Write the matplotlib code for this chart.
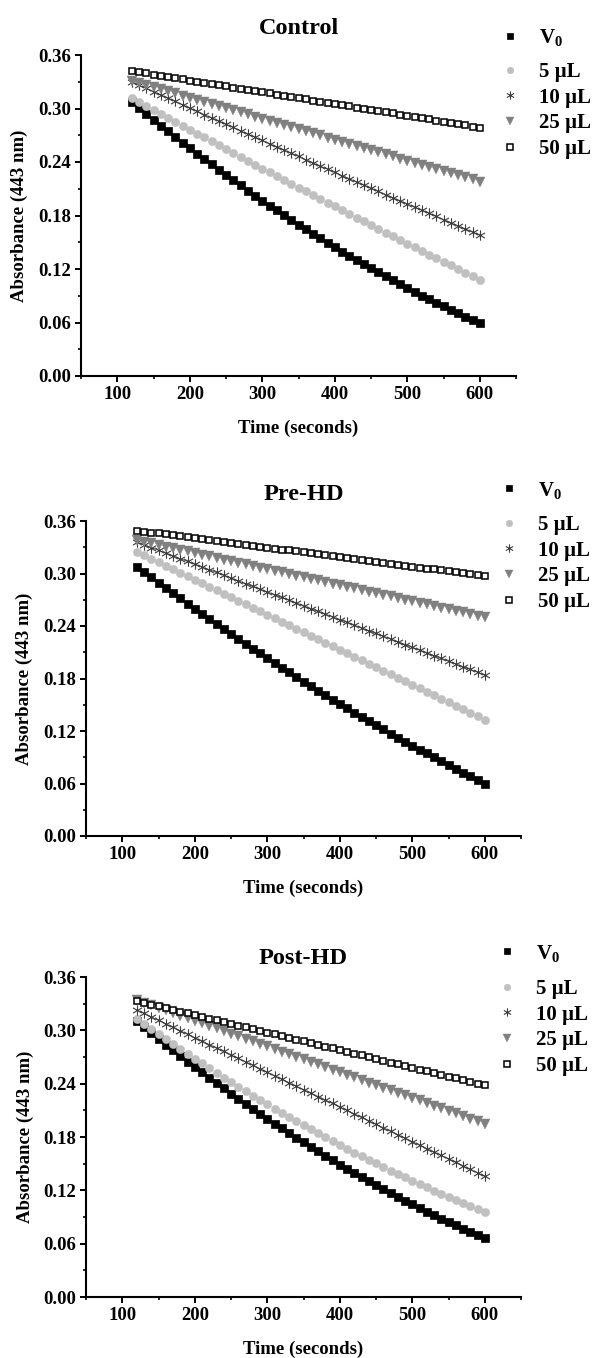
import matplotlib
matplotlib.use("Agg")
import matplotlib.pyplot as plt
from matplotlib.path import Path
from matplotlib.ticker import MultipleLocator, FormatStrFormatter

plt.rcParams['font.family'] = ['Liberation Serif', 'DejaVu Serif']
plt.rcParams['font.weight'] = 'bold'
plt.rcParams['mathtext.fontset'] = 'custom'
plt.rcParams['mathtext.rm'] = 'Liberation Serif:bold'
plt.rcParams['mathtext.bf'] = 'Liberation Serif:bold'
plt.rcParams['mathtext.it'] = 'Liberation Serif:bold'

# ---------------- data ----------------
time_s = list(range(120, 601, 10))

series_labels = ['V$_0$', '5 µL', '10 µL', '25 µL', '50 µL']
panel_titles = ['Control', 'Pre-HD', 'Post-HD']

control_v0 = [0.307, 0.3003, 0.2937, 0.2872, 0.2807, 0.2743, 0.2680, 0.2617, 0.2554, 0.2493,
              0.2432, 0.2372, 0.2312, 0.2253, 0.2195, 0.2137, 0.2080, 0.2023, 0.1967, 0.1912,
              0.1858, 0.1804, 0.1751, 0.1698, 0.1646, 0.1595, 0.1544, 0.1494, 0.1444, 0.1396,
              0.1348, 0.1300, 0.1253, 0.1207, 0.1161, 0.1116, 0.1072, 0.1028, 0.0985, 0.0943,
              0.0901, 0.0860, 0.0819, 0.0780, 0.0740, 0.0702, 0.0664, 0.0627, 0.0590]
control_5 = [0.312, 0.3075, 0.3030, 0.2986, 0.2941, 0.2896, 0.2852, 0.2808, 0.2763, 0.2719,
             0.2675, 0.2631, 0.2588, 0.2544, 0.2500, 0.2457, 0.2413, 0.2370, 0.2327, 0.2284,
             0.2241, 0.2198, 0.2155, 0.2113, 0.2070, 0.2028, 0.1985, 0.1943, 0.1901, 0.1859,
             0.1817, 0.1775, 0.1733, 0.1692, 0.1650, 0.1609, 0.1567, 0.1526, 0.1485, 0.1444,
             0.1403, 0.1362, 0.1322, 0.1281, 0.1241, 0.1200, 0.1160, 0.1120, 0.1080]
control_10 = [0.330, 0.3263, 0.3226, 0.3189, 0.3152, 0.3116, 0.3079, 0.3042, 0.3006, 0.2969,
              0.2932, 0.2896, 0.2860, 0.2823, 0.2787, 0.2751, 0.2714, 0.2678, 0.2642, 0.2606,
              0.2570, 0.2534, 0.2498, 0.2462, 0.2426, 0.2390, 0.2354, 0.2319, 0.2283, 0.2247,
              0.2212, 0.2176, 0.2141, 0.2106, 0.2070, 0.2035, 0.2000, 0.1964, 0.1929, 0.1894,
              0.1859, 0.1824, 0.1789, 0.1754, 0.1719, 0.1684, 0.1649, 0.1615, 0.1580]
control_25 = [0.331, 0.3286, 0.3263, 0.3239, 0.3216, 0.3192, 0.3169, 0.3145, 0.3122, 0.3098,
              0.3075, 0.3051, 0.3028, 0.3004, 0.2980, 0.2957, 0.2933, 0.2910, 0.2886, 0.2863,
              0.2839, 0.2816, 0.2792, 0.2769, 0.2745, 0.2722, 0.2698, 0.2674, 0.2651, 0.2627,
              0.2604, 0.2580, 0.2557, 0.2533, 0.2510, 0.2486, 0.2463, 0.2439, 0.2416, 0.2392,
              0.2368, 0.2345, 0.2321, 0.2298, 0.2274, 0.2251, 0.2227, 0.2204, 0.2180]
control_50 = [0.342, 0.3407, 0.3394, 0.3380, 0.3367, 0.3354, 0.3341, 0.3327, 0.3314, 0.3301,
              0.3288, 0.3274, 0.3261, 0.3248, 0.3235, 0.3222, 0.3208, 0.3195, 0.3182, 0.3169,
              0.3155, 0.3142, 0.3129, 0.3116, 0.3102, 0.3089, 0.3076, 0.3063, 0.3050, 0.3036,
              0.3023, 0.3010, 0.2997, 0.2983, 0.2970, 0.2957, 0.2944, 0.2930, 0.2917, 0.2904,
              0.2891, 0.2878, 0.2864, 0.2851, 0.2838, 0.2825, 0.2811, 0.2798, 0.2785]

pre_v0 = [0.308, 0.3018, 0.2956, 0.2895, 0.2835, 0.2774, 0.2715, 0.2655, 0.2596, 0.2538,
          0.2480, 0.2422, 0.2365, 0.2308, 0.2252, 0.2196, 0.2141, 0.2086, 0.2031, 0.1977,
          0.1923, 0.1870, 0.1817, 0.1765, 0.1713, 0.1662, 0.1611, 0.1560, 0.1510, 0.1460,
          0.1411, 0.1362, 0.1314, 0.1266, 0.1218, 0.1171, 0.1125, 0.1079, 0.1033, 0.0988,
          0.0943, 0.0898, 0.0854, 0.0811, 0.0768, 0.0725, 0.0683, 0.0641, 0.0600]
pre_5 = [0.325, 0.321, 0.317, 0.313, 0.309, 0.305, 0.301, 0.297, 0.293, 0.289,
         0.285, 0.281, 0.277, 0.273, 0.269, 0.265, 0.261, 0.257, 0.253, 0.249,
         0.245, 0.241, 0.237, 0.233, 0.229, 0.225, 0.221, 0.217, 0.213, 0.209,
         0.205, 0.201, 0.197, 0.193, 0.189, 0.185, 0.181, 0.177, 0.173, 0.169,
         0.165, 0.161, 0.157, 0.153, 0.149, 0.145, 0.141, 0.137, 0.133]
pre_10 = [0.336, 0.3328, 0.3297, 0.3265, 0.3233, 0.3202, 0.3170, 0.3138, 0.3107, 0.3075,
          0.3043, 0.3012, 0.2980, 0.2948, 0.2917, 0.2885, 0.2853, 0.2822, 0.2790, 0.2758,
          0.2727, 0.2695, 0.2663, 0.2632, 0.2600, 0.2568, 0.2537, 0.2505, 0.2473, 0.2442,
          0.2410, 0.2378, 0.2347, 0.2315, 0.2283, 0.2252, 0.2220, 0.2188, 0.2157, 0.2125,
          0.2093, 0.2062, 0.2030, 0.1998, 0.1967, 0.1935, 0.1903, 0.1872, 0.1840]
pre_25 = [0.338, 0.3362, 0.3343, 0.3325, 0.3307, 0.3288, 0.3270, 0.3252, 0.3233, 0.3215,
          0.3197, 0.3178, 0.3160, 0.3142, 0.3123, 0.3105, 0.3087, 0.3068, 0.3050, 0.3032,
          0.3013, 0.2995, 0.2977, 0.2958, 0.2940, 0.2922, 0.2903, 0.2885, 0.2867, 0.2848,
          0.2830, 0.2812, 0.2793, 0.2775, 0.2757, 0.2738, 0.2720, 0.2702, 0.2683, 0.2665,
          0.2647, 0.2628, 0.2610, 0.2592, 0.2573, 0.2555, 0.2537, 0.2518, 0.2500]
pre_50 = [0.349, 0.3479, 0.3468, 0.3458, 0.3447, 0.3436, 0.3425, 0.3414, 0.3403, 0.3393,
          0.3382, 0.3371, 0.3360, 0.3349, 0.3338, 0.3328, 0.3317, 0.3306, 0.3295, 0.3284,
          0.3273, 0.3263, 0.3252, 0.3241, 0.3230, 0.3219, 0.3208, 0.3198, 0.3187, 0.3176,
          0.3165, 0.3154, 0.3143, 0.3133, 0.3122, 0.3111, 0.3100, 0.3089, 0.3078, 0.3068,
          0.3057, 0.3046, 0.3035, 0.3024, 0.3013, 0.3003, 0.2992, 0.2981, 0.2970]

post_v0 = [0.310, 0.3033, 0.2968, 0.2902, 0.2838, 0.2774, 0.2711, 0.2649, 0.2587, 0.2526,
           0.2465, 0.2405, 0.2346, 0.2288, 0.2230, 0.2172, 0.2116, 0.2060, 0.2005, 0.1951,
           0.1897, 0.1844, 0.1791, 0.1739, 0.1688, 0.1638, 0.1588, 0.1539, 0.1490, 0.1442,
           0.1395, 0.1349, 0.1303, 0.1258, 0.1213, 0.1169, 0.1126, 0.1084, 0.1042, 0.1001,
           0.0960, 0.0920, 0.0881, 0.0843, 0.0805, 0.0768, 0.0731, 0.0695, 0.0660]
post_5 = [0.313, 0.3072, 0.3014, 0.2957, 0.2901, 0.2845, 0.2789, 0.2735, 0.2680, 0.2627,
          0.2573, 0.2521, 0.2469, 0.2417, 0.2366, 0.2316, 0.2266, 0.2216, 0.2168, 0.2119,
          0.2072, 0.2025, 0.1978, 0.1932, 0.1887, 0.1842, 0.1797, 0.1753, 0.1710, 0.1667,
          0.1625, 0.1584, 0.1543, 0.1502, 0.1462, 0.1423, 0.1384, 0.1345, 0.1308, 0.1270,
          0.1234, 0.1198, 0.1162, 0.1127, 0.1093, 0.1059, 0.1025, 0.0992, 0.0960]
post_10 = [0.323, 0.3191, 0.3152, 0.3113, 0.3074, 0.3035, 0.2996, 0.2957, 0.2918, 0.2879,
           0.2840, 0.2801, 0.2762, 0.2723, 0.2684, 0.2645, 0.2606, 0.2567, 0.2528, 0.2489,
           0.2450, 0.2411, 0.2372, 0.2333, 0.2294, 0.2255, 0.2216, 0.2177, 0.2138, 0.2099,
           0.2060, 0.2021, 0.1982, 0.1943, 0.1904, 0.1865, 0.1826, 0.1787, 0.1748, 0.1709,
           0.1670, 0.1631, 0.1592, 0.1553, 0.1514, 0.1475, 0.1436, 0.1397, 0.1358]
post_25 = [0.334, 0.3311, 0.3282, 0.3253, 0.3224, 0.3195, 0.3166, 0.3137, 0.3108, 0.3079,
           0.3050, 0.3021, 0.2992, 0.2964, 0.2935, 0.2906, 0.2877, 0.2848, 0.2819, 0.2790,
           0.2761, 0.2732, 0.2703, 0.2674, 0.2645, 0.2616, 0.2587, 0.2558, 0.2529, 0.2500,
           0.2471, 0.2442, 0.2413, 0.2384, 0.2355, 0.2326, 0.2297, 0.2268, 0.2239, 0.2211,
           0.2182, 0.2153, 0.2124, 0.2095, 0.2066, 0.2037, 0.2008, 0.1979, 0.1950]
post_50 = [0.333, 0.3310, 0.3290, 0.3271, 0.3251, 0.3231, 0.3211, 0.3191, 0.3172, 0.3152,
           0.3132, 0.3112, 0.3093, 0.3073, 0.3053, 0.3033, 0.3013, 0.2994, 0.2974, 0.2954,
           0.2934, 0.2914, 0.2895, 0.2875, 0.2855, 0.2835, 0.2815, 0.2796, 0.2776, 0.2756,
           0.2736, 0.2717, 0.2697, 0.2677, 0.2657, 0.2637, 0.2618, 0.2598, 0.2578, 0.2558,
           0.2538, 0.2519, 0.2499, 0.2479, 0.2459, 0.2439, 0.2420, 0.2400, 0.2380]

panels_data = [
    [control_v0, control_5, control_10, control_25, control_50],
    [pre_v0, pre_5, pre_10, pre_25, pre_50],
    [post_v0, post_5, post_10, post_25, post_50],
]

# ---------------- styles ----------------
asterisk = Path([(0, -1), (0, 1), (-0.866, -0.5), (0.866, 0.5), (-0.866, 0.5), (0.866, -0.5)],
                [Path.MOVETO, Path.LINETO, Path.MOVETO, Path.LINETO, Path.MOVETO, Path.LINETO])
styles = [
    dict(marker='s', ms=5.4, mfc='black', mec='black', mew=0.5, ls='none'),
    dict(marker='o', ms=6.0, mfc='#c0c0c0', mec='#c0c0c0', mew=0.3, ls='none'),
    dict(marker=asterisk, ms=7.5, mfc='none', mec='#3c3c3c', mew=0.8,
         ls='-', lw=0.6, color='#3c3c3c'),
    dict(marker='v', ms=7.0, mfc='#808080', mec='#808080', mew=0.3, ls='none'),
    dict(marker='s', ms=5.0, mfc='white', mec='black', mew=1.1, ls='none'),
]

W, H = 606, 1358
fig = plt.figure(figsize=(W / 100, H / 100), dpi=100)

# axes rectangles in pixels: left, right, top, bottom
ax_px = [(81, 516, 55, 376), (86, 521, 521, 836), (86, 521, 977, 1297)]
title_y = [28, 495, 959]
legend_x = [500, 499, 497]
legend_rows = [(40, 73), (492, 526), (955, 990)]   # centre of V0 row, centre of 5 uL row
ylab_x = [19, 24, 25]
FS_LEG = 15

for i, (l, r, t, b) in enumerate(ax_px):
    ax = fig.add_axes([l / W, 1 - b / H, (r - l) / W, (b - t) / H])
    handles = []
    for k, (vals, st) in enumerate(zip(panels_data[i], styles)):
        h, = ax.plot(time_s, vals, label=series_labels[k], zorder=3 + k, **st)
        handles.append(h)
    ax.set_xlim(50, 650)
    ax.set_ylim(0, 0.36)
    ax.xaxis.set_major_locator(MultipleLocator(100))
    ax.xaxis.set_minor_locator(MultipleLocator(50))
    ax.yaxis.set_major_locator(MultipleLocator(0.06))
    ax.yaxis.set_minor_locator(MultipleLocator(0.03))
    ax.yaxis.set_major_formatter(FormatStrFormatter('%.2f'))
    for s in ['top', 'right']:
        ax.spines[s].set_visible(False)
    for s in ['left', 'bottom']:
        ax.spines[s].set_linewidth(1.5)
    ax.tick_params(which='major', direction='out', length=4, width=1.4, labelsize=13.5, pad=3)
    ax.tick_params(which='minor', direction='out', length=2.5, width=1.2)
    for lab in ax.get_xticklabels() + ax.get_yticklabels():
        lab.set_fontweight('bold')
    ax.set_xlabel('Time (seconds)', fontsize=13.5, fontweight='bold', va='center')
    ax.xaxis.set_label_coords(0.5, -52 / (b - t))
    ax.set_ylabel('Absorbance (443 nm)', fontsize=13.5, fontweight='bold', va='center')
    ax.yaxis.set_label_coords((ylab_x[i] - l) / (r - l), 0.5)
    fig.text(((l + r) / 2) / W, 1 - title_y[i] / H, panel_titles[i], ha='center', va='center',
             fontsize=17.5, fontweight='bold')

    # legend: V0 row separately (taller row because of subscript), then the others
    lx = legend_x[i]
    y_v0, y_5 = legend_rows[i]
    common = dict(bbox_transform=fig.transFigure, frameon=False,
                  handlelength=1.0, handletextpad=0.85, borderpad=0, borderaxespad=0,
                  markerscale=0.8, prop={'weight': 'bold', 'size': FS_LEG})
    leg1 = ax.legend(handles=handles[:1], loc='center left',
                     bbox_to_anchor=(lx / W, 1 - (y_v0 - 2) / H), **common)
    ax.add_artist(leg1)
    leg2 = ax.legend(handles=handles[1:], loc='upper left', labelspacing=0.27,
                     bbox_to_anchor=(lx / W, 1 - (y_5 - 11) / H), **common)
    for lh in leg2.legend_handles:
        lh.set_linestyle('none')

fig.savefig('out.png', dpi=100)
